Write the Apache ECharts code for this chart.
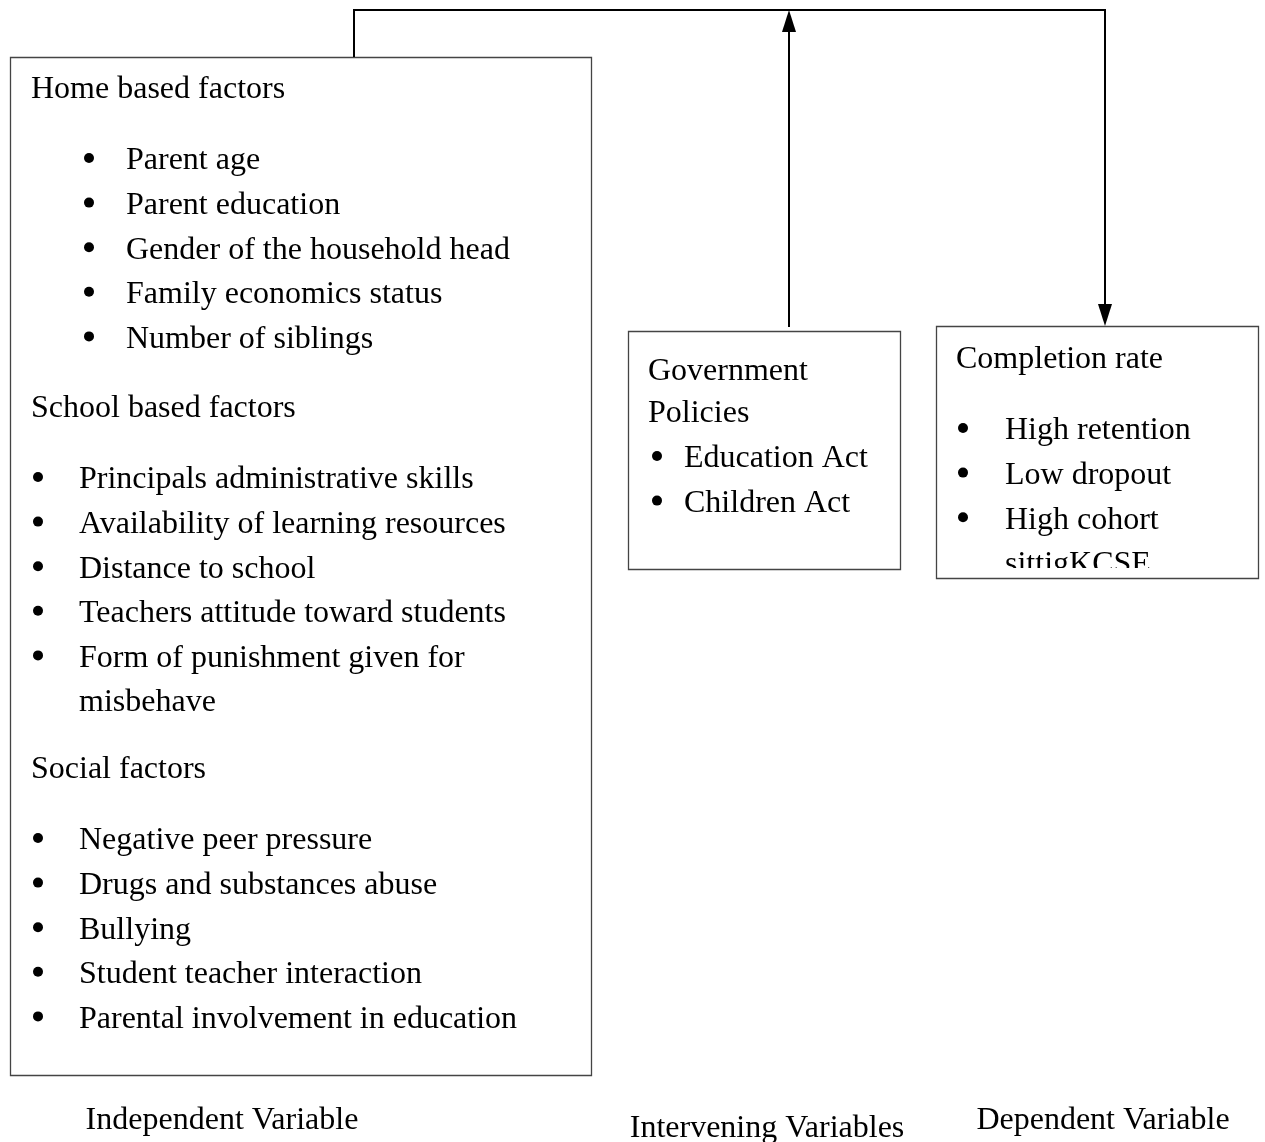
<!DOCTYPE html>
<html>
<head>
<meta charset="utf-8">
<title>Conceptual framework</title>
<script src="https://cdn.jsdelivr.net/npm/echarts@6/dist/echarts.min.js"></script>
<style>
  html, body { margin: 0; padding: 0; background: #fff; }
  #chart { width: 1265px; height: 1142px; }
</style>
</head>
<body>
<div id="chart"></div>
<script>
// diagram text
const homeTitle = 'Home based factors'
const homeItems = ['Parent age', 'Parent education', 'Gender of the household head', 'Family economics status', 'Number of siblings']
const schoolTitle = 'School based factors'
const schoolItems = ['Principals administrative skills', 'Availability of learning resources', 'Distance to school', 'Teachers attitude toward students', 'Form of punishment given for\nmisbehave']
const socialTitle = 'Social factors'
const socialItems = ['Negative peer pressure', 'Drugs and substances abuse', 'Bullying', 'Student teacher interaction', 'Parental involvement in education']
const policyTitle = ['Government', 'Policies']
const policyItems = ['Education Act', 'Children Act']
const outcomeTitle = 'Completion rate'
const outcomeItems = ['High retention', 'Low dropout', 'High cohort\nsittigKCSE']
const variableLabels = ['Independent Variable', 'Intervening Variables', 'Dependent Variable']

// layout (pixels of the 1265x1142 page)
const W = 1265, H = 1142
const STEP = 44.6
const TEXT_DY = 3
const boxes = [
  [10, 57, 591, 1075],
  [628, 331, 900, 569],
  [936, 326, 1258, 578]
]
const connectors = [
  { points: [[354, 57], [354, 10], [1105, 10], [1105, 326]], arrow: true },
  { points: [[789, 327], [789, 10]], arrow: true }
]

// build text rows
let rows = []
function addTitle (text, x, y) { rows.push({ text, x, y }) }
function addList (items, textX, bulletX, y) {
  items.forEach((item) => {
    item.split('\n').forEach((line, j) => {
      rows.push({ text: line, x: textX, y, bullet: j === 0 ? bulletX : null })
      y += STEP
    })
  })
}
addTitle(homeTitle, 31, 87)
addList(homeItems, 126, 89, 158)
addTitle(schoolTitle, 31, 406)
addList(schoolItems, 79, 38, 477)
addTitle(socialTitle, 31, 767)
addList(socialItems, 79, 38, 838)
addTitle(policyTitle[0], 648, 369)
addTitle(policyTitle[1], 648, 411)
addList(policyItems, 684, 657, 456)
addTitle(outcomeTitle, 956, 357)
addList(outcomeItems, 1005, 963, 428)
rows.push({ text: variableLabels[0], x: 222, y: 1118, center: true })
rows.push({ text: variableLabels[1], x: 767, y: 1126, center: true })
rows.push({ text: variableLabels[2], x: 1103, y: 1118, center: true })

const font = { fontFamily: '"Liberation Serif", "Times New Roman", serif', fontSize: 32 }

let chart = echarts.init(document.getElementById('chart'))
let option = {
  animation: false,
  grid: { left: 0, right: 0, top: 0, bottom: 0 },
  xAxis: { type: 'value', min: 0, max: W, show: false },
  yAxis: { type: 'value', min: 0, max: H, inverse: true, show: false },
  series: [
    {
      type: 'custom',
      clip: false,
      silent: true,
      z: 2,
      data: rows.map((r, i) => [r.x, r.y, i]),
      renderItem (params, api) {
        const r = rows[params.dataIndex]
        const p = api.coord([r.x, r.y + TEXT_DY])
        const children = [{
          type: 'text',
          x: p[0],
          y: p[1],
          style: Object.assign({
            text: r.text,
            fill: '#000',
            align: r.center ? 'center' : 'left',
            verticalAlign: 'middle'
          }, font)
        }]
        if (r.bullet != null) {
          const b = api.coord([r.bullet, r.y])
          children.push({ type: 'circle', shape: { cx: b[0], cy: b[1], r: 5 }, style: { fill: '#000' } })
        }
        return { type: 'group', children }
      }
    },
    {
      // mask: the last line of the outcome box is cut off by the box edge
      type: 'custom',
      clip: false,
      silent: true,
      z: 3,
      data: [[boxes[2][0] + 2, 568, boxes[2][2] - 2, 600]],
      renderItem (params, api) {
        const a = api.coord([api.value(0), api.value(1)])
        const b = api.coord([api.value(2), api.value(3)])
        return { type: 'rect', shape: { x: a[0], y: a[1], width: b[0] - a[0], height: b[1] - a[1] }, style: { fill: '#fff' } }
      }
    },
    {
      type: 'custom',
      clip: false,
      silent: true,
      z: 4,
      data: boxes,
      renderItem (params, api) {
        const a = api.coord([api.value(0), api.value(1)])
        const b = api.coord([api.value(2), api.value(3)])
        return {
          type: 'rect',
          shape: { x: a[0] + 0.5, y: a[1] + 0.5, width: b[0] - a[0], height: b[1] - a[1] },
          style: { fill: 'none', stroke: '#444', lineWidth: 1.3 }
        }
      }
    },
    {
      type: 'custom',
      clip: false,
      silent: true,
      z: 5,
      data: connectors.map((c, i) => [i]),
      renderItem (params, api) {
        const c = connectors[params.dataIndex]
        const pts = c.points.map((pt) => api.coord(pt))
        const n = pts.length
        const tip = pts[n - 1], prev = pts[n - 2]
        const dx = tip[0] - prev[0], dy = tip[1] - prev[1]
        const len = Math.sqrt(dx * dx + dy * dy)
        const ux = dx / len, uy = dy / len
        const headL = 22, headW = 7
        const base = [tip[0] - ux * headL, tip[1] - uy * headL]
        const linePts = pts.slice(0, n - 1).concat([base])
        const children = [{
          type: 'polyline',
          shape: { points: linePts },
          style: { stroke: '#000', lineWidth: 2, fill: 'none' }
        }]
        if (c.arrow) {
          children.push({
            type: 'polygon',
            shape: { points: [tip, [base[0] - uy * headW, base[1] + ux * headW], [base[0] + uy * headW, base[1] - ux * headW]] },
            style: { fill: '#000' }
          })
        }
        return { type: 'group', children }
      }
    }
  ]
}
option && chart.setOption(option)
window.addEventListener('resize', () => {
  chart.resize()
})
</script>
</body>
</html>
